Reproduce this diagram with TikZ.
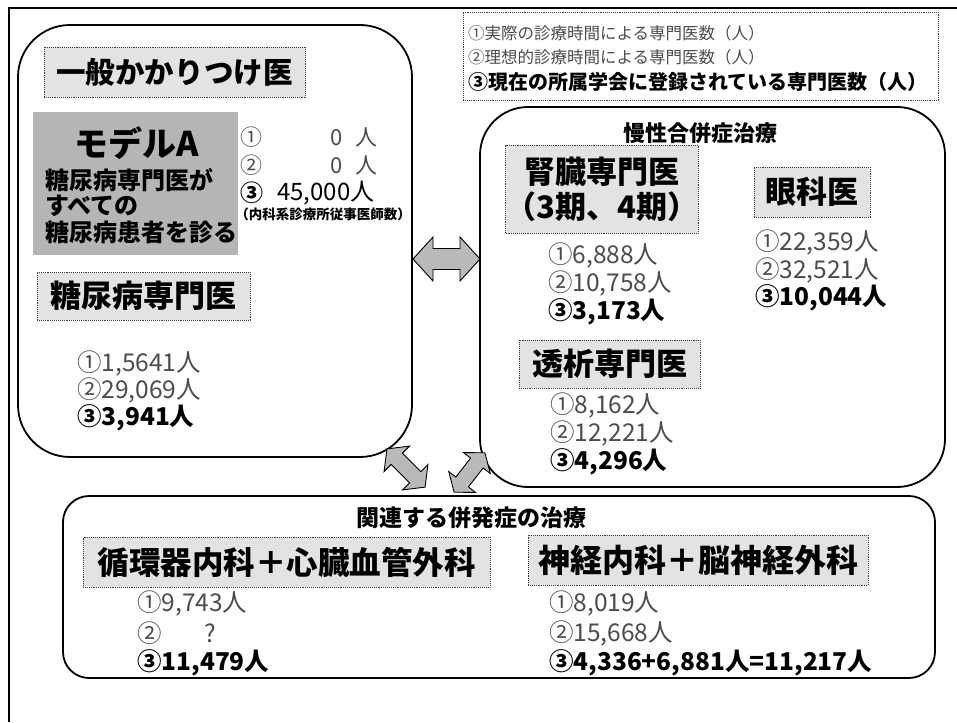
\documentclass[tikz,border=0pt]{standalone}
\usepackage{fontspec}
\setmainfont{Noto Sans CJK JP}
\tikzset{
  x=1pt, y=-1pt,
  bigbox/.style={draw=black, line width=1.8pt},
  lblbox/.style={draw=black!75, densely dotted, line width=0.9pt, fill=gray!22, inner sep=0pt, font=\bfseries},
  blkarrow/.style={draw=black, line width=0.9pt, fill=gray!55},
  txt/.style={inner sep=0pt, anchor=west},
  numA/.style={txt, text=black!70, font=\fontsize{24.5}{26}\selectfont},
  numB/.style={txt, text=black, font=\fontsize{24.5}{26}\selectfont\bfseries},
}
\newcommand{\blockarr}[7]{%
  \draw[blkarrow, shift={#1}, rotate=#2]
    (-#3,0) -- ({-#3+#6},-#4) -- ({-#3+#6},-#5) -- ({#3-#6},-#5) -- ({#3-#6},-#4)
    -- (#3,0) -- ({#3-#6},#4) -- ({#3-#6},#5) -- ({-#3+#6},#5) -- ({-#3+#6},#4) -- cycle;
  \coordinate (#7) at #1;}
\begin{document}
\begin{tikzpicture}
\useasboundingbox (0,0) rectangle (957,722);
% outer frame
\draw[line width=1.6pt] (9,722) -- (9,8);
\draw[line width=2.6pt] (8,8) -- (957,8);

% legend
\node[draw=black!75, densely dotted, line width=0.9pt, minimum width=475, minimum height=88, inner sep=0pt] (legend) at (700.5,56) {};
\node[txt, text=black!70, font=\fontsize{16.5}{18}\selectfont] (leg1) at (468,33) {①実際の診療時間による専門医数（人）};
\node[txt, text=black!70, font=\fontsize{16.5}{18}\selectfont] (leg2) at (468,57) {②理想的診療時間による専門医数（人）};
\node[txt, font=\fontsize{20}{22}\selectfont\bfseries] (leg3) at (468,82) {③現在の所属学会に登録されている専門医数（人）};

% big boxes
\draw[bigbox, rounded corners=52pt] (18,25) rectangle (412,457);
\node (leftbox) at (215,241) {};
\draw[bigbox, rounded corners=48pt] (480,107) rectangle (945,487);
\node (rightbox) at (712,297) {};
\draw[bigbox, rounded corners=26pt] (63,496) rectangle (935,678);
\node (bottombox) at (499,587) {};

% ---- left box ----
\node[lblbox, minimum width=261, minimum height=50, font=\fontsize{29.5}{31}\selectfont\bfseries] (gp) at (174.5,72) {一般かかりつけ医};
\node[fill=gray!58, minimum width=205, minimum height=143, inner sep=0pt] (modelA) at (135.5,183.5) {};
\node[inner sep=0pt, font=\fontsize{34}{36}\selectfont\bfseries] (modelAt) at (137,143) {モデルA};
\node[txt, font=\fontsize{24}{26}\selectfont\bfseries] (mA1) at (45,180) {糖尿病専門医が};
\node[txt, font=\fontsize{24}{26}\selectfont\bfseries] (mA2) at (45,206) {すべての};
\node[txt, font=\fontsize{24}{26}\selectfont\bfseries] (mA3) at (45,232) {糖尿病患者を診る};

\node[numA, font=\fontsize{22}{24}\selectfont] (a1) at (240,137) {①};
\node[numA, anchor=east, font=\fontsize{22}{24}\selectfont] (a1v) at (378,137) {0\hspace{13pt}人};
\node[numA, font=\fontsize{22}{24}\selectfont] (a2) at (240,165) {②};
\node[numA, anchor=east, font=\fontsize{22}{24}\selectfont] (a2v) at (378,165) {0\hspace{13pt}人};
\node[numB, font=\fontsize{23}{24}\selectfont\bfseries] (a3) at (240,193) {③};
\node[numB, font=\fontsize{24}{26}\selectfont] (a3v) at (277,193) {45,000人};
\node[inner sep=0pt, font=\fontsize{13.5}{15}\selectfont\bfseries] (a3n) at (323,214) {（内科系診療所従事医師数）};

\node[lblbox, minimum width=213, minimum height=48, font=\fontsize{31}{33}\selectfont\bfseries] (dm) at (143.5,296) {糖尿病専門医};
\node[numA] (dm1) at (77,363) {①1,5641人};
\node[numA] (dm2) at (77,390) {②29,069人};
\node[numB] (dm3) at (77,418) {③3,941人};

% ---- right box ----
\node[inner sep=0pt, font=\fontsize{22}{24}\selectfont\bfseries] (chronic) at (700,133) {慢性合併症治療};
\node[lblbox, minimum width=182, minimum height=88, align=center, font=\fontsize{31}{35}\selectfont\bfseries] (kid) at (602,189) {腎臓専門医\\（3期、4期）};
\node[numA] (k1) at (548,255) {①6,888人};
\node[numA] (k2) at (548,283) {②10,758人};
\node[numB] (k3) at (548,312) {③3,173人};

\node[lblbox, minimum width=116, minimum height=50, font=\fontsize{31}{33}\selectfont\bfseries] (eye) at (812,192) {眼科医};
\node[numA] (e1) at (755,242) {①22,359人};
\node[numA] (e2) at (755,270) {②32,521人};
\node[numB] (e3) at (755,298) {③10,044人};

\node[lblbox, minimum width=181, minimum height=48, font=\fontsize{31}{33}\selectfont\bfseries] (dial) at (609.5,364) {透析専門医};
\node[numA] (d1) at (550,405) {①8,162人};
\node[numA] (d2) at (550,433) {②12,221人};
\node[numB] (d3) at (550,462) {③4,296人};

% ---- bottom box ----
\node[inner sep=0pt, font=\fontsize{23}{25}\selectfont\bfseries] (related) at (471,518) {関連する併発症の治療};
\node[lblbox, minimum width=407, minimum height=50, font=\fontsize{31.5}{33}\selectfont\bfseries] (cardio) at (286.5,562) {循環器内科＋心臓血管外科};
\node[numA] (c1) at (137,603) {①9,743人};
\node[numA] (c2) at (137,633) {②};
\node[numA, anchor=center] (c2q) at (210,633) {?};
\node[numB] (c3) at (137,663) {③11,479人};

\node[lblbox, minimum width=340, minimum height=50, font=\fontsize{32}{34}\selectfont\bfseries] (neuro) at (698,560) {神経内科＋脳神経外科};
\node[numA] (n1) at (549,603) {①8,019人};
\node[numA] (n2) at (549,633) {②15,668人};
\node[numB] (n3) at (549,663) {③4,336+6,881人=11,217人};

% ---- block arrows ----
\blockarr{(446.5,259)}{0}{33.5}{22}{10.5}{20}{arrH}
\blockarr{(406,468)}{-45}{27}{18}{8}{14}{arrL}
\blockarr{(469.5,472.5)}{52}{25}{17}{8}{13}{arrR}
\end{tikzpicture}
\end{document}
